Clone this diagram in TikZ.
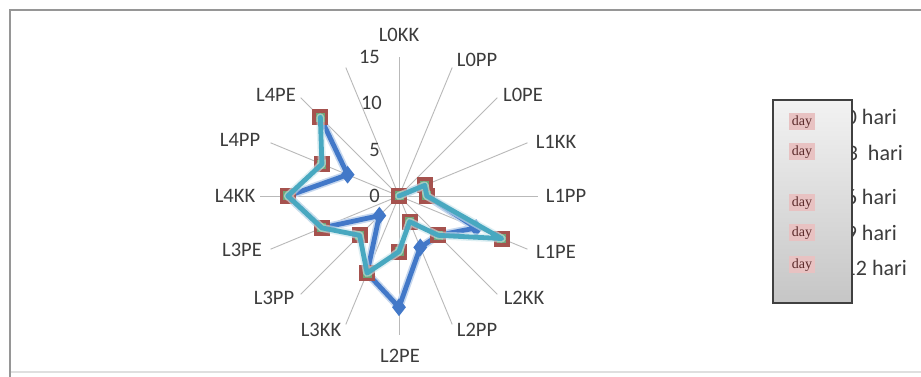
\documentclass[tikz,border=0pt]{standalone}
\usepackage{fontspec}
\setmainfont{Carlito}
\newfontfamily\dayfont{Liberation Serif}
\usetikzlibrary{calc,shapes.geometric}
\definecolor{axisgray}{RGB}{185,185,185}
\definecolor{serblue}{RGB}{66,120,200}
\definecolor{serteal}{RGB}{72,168,192}
\definecolor{sqred}{RGB}{165,82,78}
\definecolor{sqgreen}{RGB}{110,165,120}
\definecolor{framegray}{RGB}{150,150,150}
\definecolor{txtgray}{RGB}{60,60,60}
\definecolor{daypink}{RGB}{232,194,194}
\definecolor{daytext}{RGB}{90,40,40}
\tikzset{
  axisline/.style={draw=axisgray, line width=0.9pt},
  catlabel/.style={text=txtgray, font=\fontsize{20.5}{23}\selectfont, inner sep=0pt},
  scalelabel/.style={text=txtgray, font=\fontsize{20.5}{23}\selectfont, inner sep=0pt, anchor=east},
  bluehalo/.style={draw=serblue!30, line width=8pt, line join=round, line cap=round},
  blueline/.style={draw=serblue, line width=4.8pt, line join=round, line cap=round},
  tealhalo/.style={draw=serteal!30, line width=8pt, line join=round, line cap=round},
  tealline/.style={draw=serteal, line width=4.8pt, line join=round, line cap=round},
  diamark/.style={diamond, fill=serblue, minimum width=14pt, minimum height=18pt, inner sep=0pt},
  sqmark/.style={rectangle, fill=sqred, minimum size=16pt, inner sep=0pt},
  sqinner/.style={rectangle, fill=sqgreen, minimum size=9pt, inner sep=0pt},
  harilabel/.style={text=txtgray, font=\fontsize{22}{25}\selectfont, inner sep=0pt, anchor=east},
  daybox/.style={fill=daypink, text=daytext, font=\dayfont\fontsize{14}{16}\selectfont, inner xsep=1.5pt, inner ysep=1pt, minimum height=17pt, minimum width=26pt}
}
\begin{document}
\begin{tikzpicture}[x=1pt,y=1pt]
\useasboundingbox (0,0) rectangle (921,377);
\fill[white] (0,0) rectangle (921,377);
% chart frame
\draw[gray!25, line width=2pt] (10,5) -- (921,5);
\draw[framegray, line width=1.6pt] (10,0) -- (10,367) -- (921,367);

% radar centre and axes
\coordinate (c) at (399,181);
\foreach \i in {0,...,15} {
  \coordinate (ax\i) at ($(c)+({90-22.5*\i}:139)$);
  \draw[axisline] (c) -- (ax\i);
}

% category labels
\node[catlabel] (lL0KK) at (399,342) {L0KK};
\node[catlabel] (lL0PP) at (477,317) {L0PP};
\node[catlabel] (lL0PE) at (523,282) {L0PE};
\node[catlabel] (lL1KK) at (556,235) {L1KK};
\node[catlabel] (lL1PP) at (566,181) {L1PP};
\node[catlabel] (lL1PE) at (556,125) {L1PE};
\node[catlabel] (lL2KK) at (524,79) {L2KK};
\node[catlabel] (lL2PP) at (477,47) {L2PP};
\node[catlabel] (lL2PE) at (400,21) {L2PE};
\node[catlabel] (lL3KK) at (321,47) {L3KK};
\node[catlabel] (lL3PP) at (274,79) {L3PP};
\node[catlabel] (lL3PE) at (242,127) {L3PE};
\node[catlabel] (lL4KK) at (235,181) {L4KK};
\node[catlabel] (lL4PP) at (240,237) {L4PP};
\node[catlabel] (lL4PE) at (276,282) {L4PE};

% scale labels
\node[scalelabel] (s0) at (380,181) {0};
\node[scalelabel] (s5) at (380,227.3) {5};
\node[scalelabel] (s10) at (382,273.6) {10};
\node[scalelabel] (s15) at (380,320) {15};

% data points
\foreach \v [count=\i from 0] in {0,0,0,3,3,9,6,6,12,9,3,9,12,6,12} {
  \coordinate (b\i) at ($(c)+({90-22.5*\i}:{9.27*\v})$);
}
\foreach \v [count=\i from 0] in {0,0,0,3,3,12,6,3,6,9,6,9,12,9,12} {
  \coordinate (t\i) at ($(c)+({90-22.5*\i}:{9.27*\v})$);
}

% series 0 hari (blue)
\draw[bluehalo] (b0) \foreach \i in {1,...,14} { -- (b\i) };
\draw[blueline] (b0) \foreach \i in {1,...,14} { -- (b\i) };
\foreach \i in {5,7,8,10,13} { \node[diamark] (bm\i) at (b\i) {}; }

% overlapping series (squares + teal line)
\foreach \i in {0,3,4,5,6,7,8,9,10,11,12,13,14} { \node[sqmark] (sm\i) at (t\i) {}; }
\foreach \i in {0,3,4,5,6,7,8,9,10,11,12,13,14} { \node[sqinner] (si\i) at (t\i) {}; }
\draw[tealhalo, opacity=0.6] (t0) \foreach \i in {1,...,14} { -- (t\i) };
\draw[tealline] (t0) \foreach \i in {1,...,14} { -- (t\i) };

% legend
\node[harilabel] (h0) at (897,260) {0 hari};
\node[harilabel] (h3) at (903,224) {3\ \ hari};
\node[harilabel] (h6) at (897,180) {6 hari};
\node[harilabel] (h9) at (897,144) {9 hari};
\node[harilabel] (h12) at (907,109) {12 hari};
\shade[top color=gray!10, bottom color=gray!45, draw=black!75, line width=1.2pt] (773,277) rectangle (852,74);
\node[daybox] (d0) at (802,255) {day};
\node[daybox] (d3) at (802,225) {day};
\node[daybox] (d6) at (802,174) {day};
\node[daybox] (d9) at (802,144) {day};
\node[daybox] (d12) at (802,112) {day};
\end{tikzpicture}
\end{document}
